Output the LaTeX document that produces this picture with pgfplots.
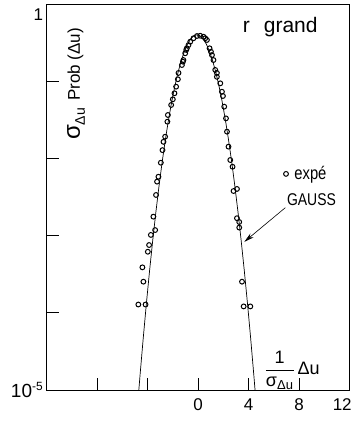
\documentclass[border=0pt]{standalone}
\usepackage{pgfplots}
\pgfplotsset{compat=1.18}
\usepackage{fontspec}
\setmainfont{Liberation Sans}
\newfontfamily\condensed{Liberation Sans}[FakeStretch=0.82]
\usetikzlibrary{arrows.meta}

\begin{document}
\begin{tikzpicture}
\begin{axis}[
  at={(0,0)}, anchor=south west,
  scale only axis, width=303pt, height=386pt,
  xmin=-12, xmax=12, ymode=log, ymin=1e-5, ymax=1,
  xtick={-8,-4,0,4,8,12}, xticklabels={,,0,4,8,\makebox[0pt][r]{12\kern-2pt}},
  ytick={1e-5,1e-4,1e-3,1e-2,1e-1,1},
  yticklabels={{\fontsize{19}{20}\selectfont 10}\textsuperscript{-5},,,,,\raisebox{-16pt}[6pt][6pt]{1}\hspace{13pt}},
  yminorticks=false, xminorticks=false,
  tick align=inside, xtick pos=bottom, ytick pos=left,
  major tick length=12pt,
  axis line style={line width=1pt},
  every tick/.style={line width=1pt, black},
  ticklabel style={font=\fontsize{17}{19}\selectfont},
  xticklabel style={yshift=-5pt},
  legend style={draw=none, fill=none, at={(axis cs:6.75,6.3e-3)}, anchor=west,
    font=\condensed\fontsize{16}{18}\selectfont, inner sep=0pt},
  legend cell align=left,
  legend image code/.code={\draw[#1] plot coordinates {(0.1cm,0cm)};},
]
% Gaussian reference curve (values listed)
\addplot[black, line width=0.7pt, forget plot] coordinates {
(-4.72,9.27e-6) (-4.60,1.60e-5) (-4.35,4.78e-5) (-4.10,1.34e-4) (-3.85,3.53e-4)
(-3.60,8.73e-4) (-3.35,2.032e-3) (-3.10,4.43e-3) (-2.85,9.10e-3) (-2.60,0.01753)
(-2.35,0.03177) (-2.10,0.0540) (-1.85,0.0863) (-1.60,0.1295) (-1.35,0.1827)
(-1.10,0.2420) (-0.85,0.3012) (-0.60,0.3521) (-0.35,0.3867) (-0.10,0.3989)
(0.15,0.3867) (0.40,0.3521) (0.65,0.3012) (0.90,0.2420) (1.15,0.1827)
(1.40,0.1295) (1.65,0.0863) (1.90,0.0540) (2.15,0.03177) (2.40,0.01753)
(2.65,9.10e-3) (2.90,4.43e-3) (3.15,2.032e-3) (3.40,8.73e-4) (3.65,3.53e-4)
(3.90,1.34e-4) (4.15,4.78e-5) (4.40,1.60e-5) (4.52,9.27e-6)
};
% experimental points
\addplot[only marks, mark=o, mark size=2.4pt, mark options={fill=white, line width=1pt, draw=black}] coordinates {
(-1.56,0.128) (-1.29,0.162) (-1.21,0.179) (-1.17,0.188) (-1.03,0.230)
(-0.95,0.254) (-0.90,0.267) (-0.77,0.294) (-0.63,0.325) (-0.37,0.360)
(-0.10,0.385) (0.16,0.388) (0.42,0.377) (0.56,0.360) (0.69,0.342)
(0.90,0.267) (1.01,0.241) (1.09,0.218) (1.21,0.188) (1.35,0.140) (1.48,0.128)
(-1.61,0.106) (-1.75,0.0849) (-1.88,0.0697) (-2.01,0.0583) (-2.14,0.0492)
(-2.40,0.0365) (-2.44,0.0299) (-2.62,0.0191) (-2.75,0.0164) (-2.83,0.0128)
(-2.96,0.00879) (-3.15,0.00579) (-3.26,0.0050) (-3.34,0.00336)
(-3.55,0.00176) (-3.41,0.00118) (-3.75,0.00102) (-3.89,7.55e-4) (-3.99,6.18e-4)
(-4.42,3.88e-4) (-4.34,2.53e-4) (-4.74,1.28e-4) (-4.17,1.28e-4)
(1.48,0.114) (1.75,0.0939) (1.88,0.0731) (1.96,0.0643) (2.06,0.0468)
(2.20,0.0330) (2.28,0.0222) (2.40,0.0142) (2.54,0.00953) (2.72,0.00780)
(2.80,0.00378) (3.07,0.00402) (3.07,0.00168) (3.25,0.00150) (3.25,0.00127)
(3.47,2.53e-4) (3.60,1.21e-4) (4.13,1.21e-4)
};
\addlegendentry{\hspace{4pt}\condensed\fontsize{18}{20}\selectfont expé}

\node[rotate=90, anchor=base west, inner sep=0pt] at (axis cs:-9.37,0.0173)
  {{\fontsize{24}{26}\selectfont σ}\raisebox{-5pt}{\fontsize{14}{15}\selectfont Δu}\hspace{7pt}{\fontsize{17}{19}\selectfont Prob (Δu)}};
\node[font=\fontsize{21}{24}\selectfont] at (axis cs:6.5,0.496) {r\hspace{14pt}grand};
\node[font=\condensed\fontsize{17}{20}\selectfont] at (axis cs:8.97,2.89e-3) {GAUSS};
\draw[line width=0.6pt, -{Stealth[length=10pt,width=5pt]}] (axis cs:6.9,2.3e-3) -- (axis cs:3.65,8.3e-4);
\node[font=\fontsize{18}{20}\selectfont] at (axis cs:7.45,1.8e-5)
  {$\displaystyle\frac{\mbox{1}}{\mbox{σ}_{\mbox{\fontsize{13}{14}\selectfont Δu}}}$\,Δu};
\end{axis}
\pgfresetboundingbox
\path[use as bounding box] (-46.7pt,-33pt) rectangle (307.3pt,390pt);
\end{tikzpicture}
\end{document}
